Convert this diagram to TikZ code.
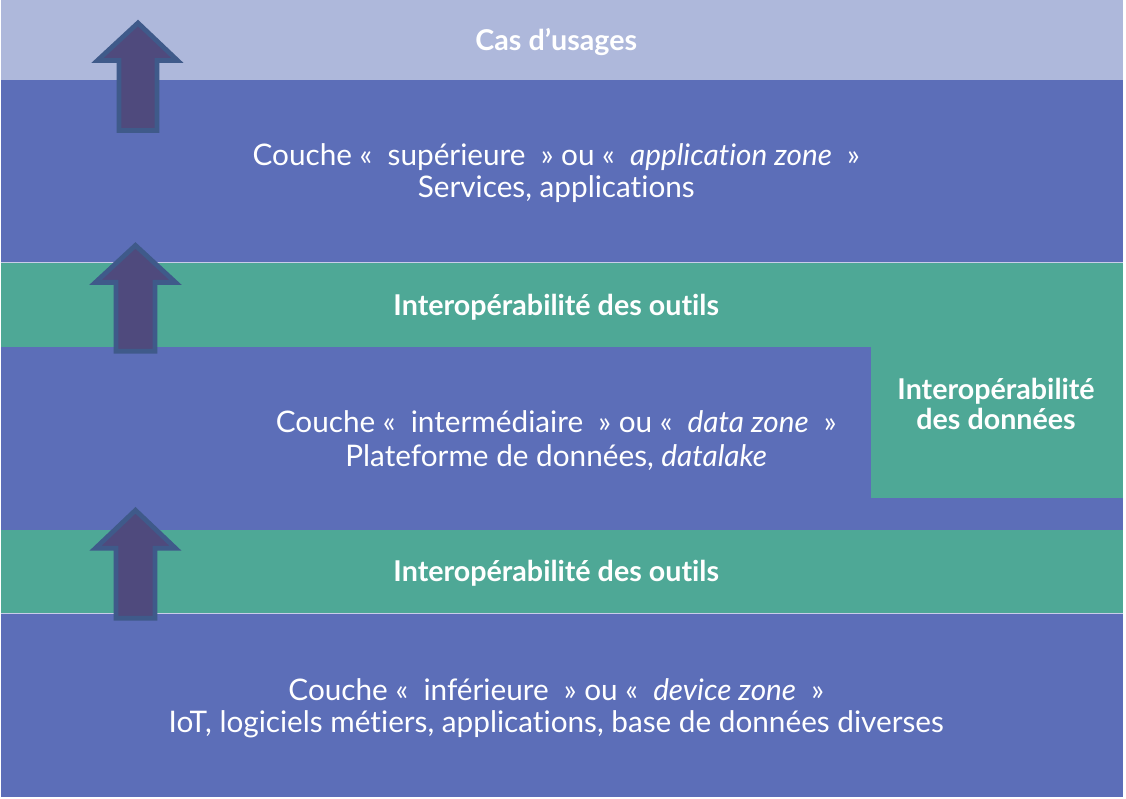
\documentclass[tikz,border=0pt]{standalone}
\usepackage{fontspec}
\setmainfont{Lato}[Ligatures=NoCommon]
\definecolor{lavender}{HTML}{AEB8DB}
\definecolor{layerblue}{HTML}{5C6EB8}
\definecolor{interop}{HTML}{4EA896}
\definecolor{arrowfill}{HTML}{4F4A7D}
\definecolor{arrowline}{HTML}{3F5A8A}
\definecolor{seam}{HTML}{C9CDE9}
\begin{document}
\begin{tikzpicture}[x=0.75pt,y=-0.75pt,
  lbl/.style={text=white,align=center,font=\fontsize{22.3}{24}\selectfont,inner sep=0pt},
  head/.style={lbl,font=\fontsize{21.5}{23}\selectfont\bfseries},
  uparrow/.style={fill=arrowfill,draw=arrowline,line width=3.6pt,line join=miter}]
% canvas
\fill[white] (0,0) rectangle (1126,799);
% layers, top to bottom
\fill[lavender]  (0,0)   rectangle (1123,80);
\fill[layerblue] (0,80)  rectangle (1123,263);
\fill[interop]   (0,263) rectangle (1123,347);
\fill[layerblue] (0,347) rectangle (1123,530);
\fill[interop]   (871,347) rectangle (1123,498);
\fill[interop]   (0,530) rectangle (1123,614);
\fill[layerblue] (0,614) rectangle (1123,797);
\draw[seam,line width=0.8pt] (0,263) -- (1123,263);
\draw[seam,line width=0.8pt] (0,614) -- (1123,614);
% upward arrows
\draw[uparrow] (137.5,23) -- (177,60.5) -- (156.5,60.5) -- (156.5,130.5)
  -- (118.5,130.5) -- (118.5,60.5) -- (97,60.5) -- cycle;
\draw[uparrow] (135,245.5) -- (175,282.5) -- (154.5,282.5) -- (154.5,351.5)
  -- (115.5,351.5) -- (115.5,282.5) -- (95,282.5) -- cycle;
\draw[uparrow] (135,510.5) -- (175,548.5) -- (154.5,548.5) -- (154.5,618.5)
  -- (115.5,618.5) -- (115.5,548.5) -- (95,548.5) -- cycle;
% labels
\node[head] (usages) at (556,42) {Cas d’usages};
\node[lbl] (upper) at (556,173) {Couche «~~supérieure~~» ou «~~\textit{application zone}~~»\\Services, applications};
\node[head] (tools1) at (556,307) {Interopérabilité des outils};
\node[lbl,font=\fontsize{22.3}{25.5}\selectfont] (middle) at (556,441) {Couche «~~intermédiaire~~» ou «~~\textit{data zone}~~»\\Plateforme de données, \textit{datalake}};
\node[head,font=\fontsize{21.5}{22.5}\selectfont\bfseries] (data) at (996,404) {Interopérabilité\\des données};
\node[head] (tools2) at (556,574) {Interopérabilité des outils};
\node[lbl] (lower) at (556,709) {Couche «~~inférieure~~» ou «~~\textit{device zone}~~»\\IoT, logiciels métiers, applications, base de données diverses};
\end{tikzpicture}
\end{document}
